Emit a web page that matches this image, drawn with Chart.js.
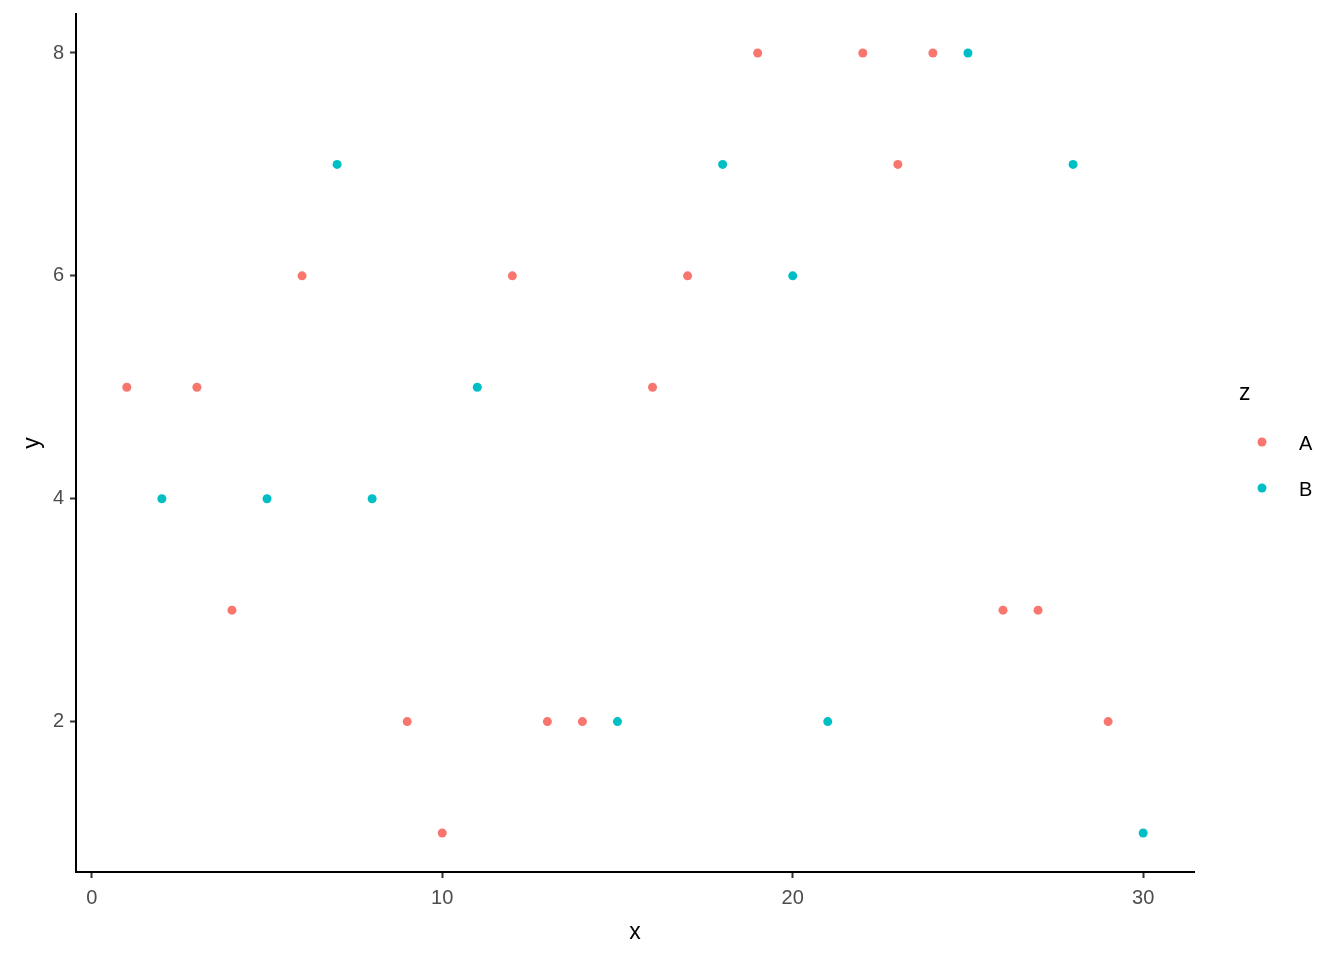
<!DOCTYPE html>
<html>
<head>
<meta charset="utf-8">
<script src="https://cdn.jsdelivr.net/npm/chart.js@4"></script>
<style>
  html, body { margin: 0; padding: 0; background: #fff; }
  #wrap { width: 1344px; height: 960px; }
</style>
</head>
<body>
<div id="wrap"><canvas id="myChart" width="1344" height="960"></canvas></div>
<script>
// data
const xA = [1, 3, 4, 6, 9, 10, 12, 13, 14, 16, 17, 19, 22, 23, 24, 26, 27, 29];
const yA = [5, 5, 3, 6, 2, 1, 6, 2, 2, 5, 6, 8, 8, 7, 8, 3, 3, 2];
const xB = [2, 5, 7, 8, 11, 15, 18, 20, 21, 25, 28, 30];
const yB = [4, 4, 7, 4, 5, 2, 7, 6, 2, 8, 7, 1];
const groups = ['A', 'B'];
const xTicks = [0, 10, 20, 30];
const yTicks = [2, 4, 6, 8];

const colA = '#F8766D';
const colB = '#00BFC4';

const ctx = document.getElementById('myChart');

const toPoints = (xs, ys) => xs.map((x, i) => ({ x: x, y: ys[i] }));

// legend drawn by hand, ggplot style
const ggLegend = {
    id: 'ggLegend',
    afterDraw(chart) {
        const c = chart.ctx;
        c.save();
        c.fillStyle = '#000';
        c.font = '23px "Liberation Sans", Arial, sans-serif';
        c.textBaseline = 'middle';
        c.textAlign = 'left';
        c.fillText('z', 1239, 394);
        c.font = '20px "Liberation Sans", Arial, sans-serif';
        chart.data.datasets.forEach((ds, i) => {
            const y = 442 + i * 46;
            c.beginPath();
            c.arc(1262, y, 4.5, 0, Math.PI * 2);
            c.fillStyle = ds.backgroundColor;
            c.fill();
            c.fillStyle = '#000';
            c.fillText(ds.label, 1299, y + 2);
        });
        c.restore();
    }
};

// no extra room for label overhang, the padding below sets the plot box
const noOverhang = (s) => {
    s.paddingTop = 0; s.paddingBottom = 0;
    s.paddingLeft = 0; s.paddingRight = 0;
};

const scatterChart = new Chart(ctx, {
    type: 'scatter',
    data: {
        datasets: [
            { label: groups[0], data: toPoints(xA, yA), backgroundColor: colA, borderColor: colA, pointRadius: 4.5, borderWidth: 0 },
            { label: groups[1], data: toPoints(xB, yB), backgroundColor: colB, borderColor: colB, pointRadius: 4.5, borderWidth: 0 }
        ]
    },
    options: {
        responsive: false,
        animation: false,
        layout: { padding: { top: 14, right: 150, left: 0, bottom: 0 } },
        plugins: {
            legend: { display: false },
            tooltip: { enabled: false }
        },
        scales: {
            x: {
                type: 'linear',
                min: -0.45,
                max: 31.45,
                afterBuildTicks: (s) => { s.ticks = xTicks.map(v => ({ value: v })); },
                afterFit: (s) => { s.height = 88; noOverhang(s); },
                grid: { drawOnChartArea: false, tickLength: 6, tickColor: '#333', tickWidth: 2 },
                border: { display: true, color: '#000', width: 2 },
                ticks: { color: '#4D4D4D', font: { family: '"Liberation Sans", Arial', size: 20 }, padding: 8, maxRotation: 0 },
                title: { display: true, text: 'x', color: '#000', font: { family: '"Liberation Sans", Arial', size: 23 }, padding: { top: 4, bottom: 14 } }
            },
            y: {
                type: 'linear',
                min: 0.65,
                max: 8.35,
                afterBuildTicks: (s) => { s.ticks = yTicks.map(v => ({ value: v })); },
                afterFit: (s) => { s.width = 76; noOverhang(s); },
                grid: { drawOnChartArea: false, tickLength: 6, tickColor: '#333', tickWidth: 2 },
                border: { display: true, color: '#000', width: 2 },
                ticks: { color: '#4D4D4D', font: { family: '"Liberation Sans", Arial', size: 20 }, padding: 6 },
                title: { display: true, text: 'y', color: '#000', font: { family: '"Liberation Sans", Arial', size: 23 }, padding: { top: 19, bottom: 6 } }
            }
        }
    },
    plugins: [ggLegend]
});
</script>
</body>
</html>
